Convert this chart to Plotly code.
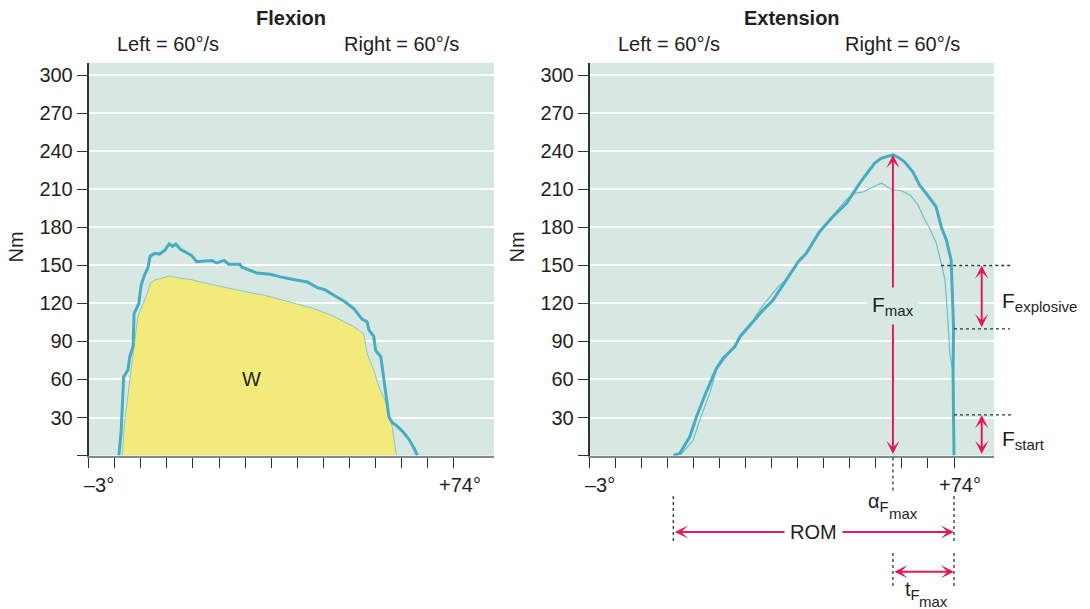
import plotly.graph_objects as go

# ---------------- data (angle in degrees, torque in Nm) ----------------
# Flexion, left leg (thin curve, work area W filled)
flex_left_deg = [4.1, 4.6, 5.7, 6.7, 7.4, 8.5, 9.5, 10.0, 11.0, 12.4, 14.1, 16.3, 18.4, 20.5,
                 23.3, 26.8, 30.4, 33.9, 37.4, 40.9, 44.5, 48.0, 50.8, 52.9, 55.0, 55.7,
                 57.1, 58.2, 59.6, 61.0, 61.9]
flex_left_nm = [0, 25.4, 59.6, 91, 109.6, 120, 129, 136, 138.5, 140, 141.7, 140, 139, 137,
                134.6, 132, 129, 126.7, 123.3, 120, 116, 111, 105.6, 101.7, 96, 80.7,
                67.5, 54.3, 42.5, 22.7, 0]

# Flexion, right leg (thick curve)
flex_right_deg = [3.4, 3.9, 4.4, 5.3, 5.7, 6.4, 6.6, 7.6, 8.1, 8.8, 9.5, 10.0, 11.0, 12.0,
                  13.1, 14.0, 14.7, 15.4, 16.3, 17.7, 18.7, 19.8, 23.0, 24.0, 25.6, 26.5,
                  28.9, 29.3, 32.5, 35.3, 37.4, 40.2, 43.1, 45.2, 46.9, 48.7, 50.8, 52.9,
                  54.7, 55.7, 56.1, 57.1, 57.5, 58.6, 58.9, 59.6, 60.3, 61.0, 62.1, 63.2,
                  64.5, 65.6, 66.3]
flex_right_nm = [0, 20, 62, 67.5, 78, 86, 112, 120, 134.6, 142.5, 148, 157.5, 159.6, 159,
                 162, 167, 165, 167, 163, 160, 158, 153, 154, 152, 154, 151,
                 151, 148.6, 144, 143, 141, 139, 137, 132.5, 130.7, 126.5, 122, 116,
                 107.5, 105.6, 99, 94.3, 83, 78, 70, 51.7, 30.6, 26, 23, 19,
                 13, 5.7, 0]

# Extension, left leg (thin curve)
ext_left_deg = [15.0, 16.5, 18.9, 20.3, 22.4, 23.8, 25.9, 27.8, 29.0, 31.0, 33.5, 36.8,
                38.7, 41.2, 43.0, 45.5, 48.3, 51.0, 52.7, 54.8, 56.9, 58.7, 60.8, 62.9,
                64.7, 66.4, 67.5, 68.9, 70.3, 71.4, 72.1, 72.8, 73.1, 73.8, 74.0]
ext_left_nm = [0, 1.5, 12, 28, 49, 67.5, 78, 86.5, 94, 103.5, 118, 133,
               139.5, 153.5, 160, 177, 189, 201, 207, 208, 212, 215, 210, 209,
               205.7, 197.8, 188.5, 179, 167.5, 149, 138.6, 101.7, 80.7, 65, 0]

# Extension, right leg (thick curve)
ext_right_deg = [14.7, 16.1, 18.2, 19.6, 21.4, 23.8, 25.2, 27.7, 28.8, 30.9, 33.7, 35.8,
                 38.6, 41.1, 42.8, 45.6, 48.4, 51.3, 54.1, 57.2, 58.6, 60.4, 61.1, 62.1,
                 63.5, 65.3, 66.7, 68.1, 70.2, 71.3, 72.4, 73.4, 73.6, 73.9, 73.8, 74.0]
ext_right_nm = [0, 1.7, 15, 30.6, 47.8, 68.8, 76.7, 86, 93.8, 103, 115, 122.8,
                138.6, 153, 159.6, 176.7, 188.5, 199, 215, 230.7, 234.6, 236.7, 237.4, 235.6,
                232, 224, 213.6, 207, 196.4, 180.6, 170, 154, 133, 101.7, 65, 0]

y_ticks = [0, 30, 60, 90, 120, 150, 180, 210, 240, 270, 300]
y_tick_labels = ["", "30", "60", "90", "120", "150", "180", "210", "240", "270", "300"]
x_ticks = [-3, 2.5, 8, 13.5, 19, 24.5, 30, 35.5, 41, 46.5, 52, 57.5, 63, 68.5, 74]
x_end_labels = ["–3°", "+74°"]

# Torque levels marked on the extension curve
f_explosive_top, f_explosive_bottom = 150, 100
f_start_level = 32

# ---------------- layout geometry ----------------
W, H = 1090, 609
X_RANGE = [-3, 82.45]
Y_RANGE = [0, 310]
DOM_X1 = [88.5 / W, 494 / W]
DOM_X2 = [589.5 / W, 994 / W]
DOM_Y = [1 - 455.5 / H, 1 - 62.8 / H]

BG = "#d7e8e2"
THICK = "#48acc1"
THIN = "#6dbdcc"
YELLOW = "#f2eb7b"
RED = "#e41a58"
TEXT = "#231f20"
FONT = "Liberation Sans, Arial, sans-serif"


def xpx(deg, dom):
    return dom[0] * W + (deg - X_RANGE[0]) / (X_RANGE[1] - X_RANGE[0]) * (dom[1] - dom[0]) * W


def ypx(val):
    return (1 - DOM_Y[1]) * H + (Y_RANGE[1] - val) / (Y_RANGE[1] - Y_RANGE[0]) * (DOM_Y[1] - DOM_Y[0]) * H


def sub(s, size):
    return "<sub><span style='font-size:%dpx'>%s</span></sub>" % (size, s)


fig = go.Figure()

# Flexion
fig.add_trace(go.Scatter(x=flex_left_deg, y=flex_left_nm, mode="lines", fill="tozeroy",
                         fillcolor=YELLOW, line=dict(color="#86c8cc", width=1),
                         xaxis="x", yaxis="y", hoverinfo="skip"))
fig.add_trace(go.Scatter(x=flex_right_deg, y=flex_right_nm, mode="lines",
                         line=dict(color=THICK, width=3), xaxis="x", yaxis="y", hoverinfo="skip"))
# Extension
fig.add_trace(go.Scatter(x=ext_left_deg, y=ext_left_nm, mode="lines",
                         line=dict(color=THIN, width=1.2), xaxis="x2", yaxis="y2", hoverinfo="skip"))
fig.add_trace(go.Scatter(x=ext_right_deg, y=ext_right_nm, mode="lines",
                         line=dict(color=THICK, width=3), xaxis="x2", yaxis="y2", hoverinfo="skip"))

xaxis_style = dict(range=X_RANGE, tickvals=x_ticks, ticktext=[""] * len(x_ticks),
                   ticks="outside", ticklen=10, tickwidth=1.2, tickcolor="#333",
                   showgrid=False, zeroline=False, showline=True, linecolor="#7f8b89",
                   linewidth=2, fixedrange=True)
yaxis_style = dict(range=Y_RANGE, domain=DOM_Y, tickvals=y_ticks, ticktext=y_tick_labels,
                   ticks="outside", ticklen=10, tickwidth=1.2, tickcolor="#333",
                   showgrid=True, gridcolor="white", gridwidth=2, zeroline=False,
                   showline=True, linecolor="#333", linewidth=1.5,
                   tickfont=dict(size=20, color=TEXT, family=FONT), fixedrange=True)

fig.update_layout(
    width=W, height=H, margin=dict(l=0, r=0, t=0, b=0),
    paper_bgcolor="white", plot_bgcolor=BG, showlegend=False,
    font=dict(family=FONT, size=20, color=TEXT),
    xaxis=dict(domain=DOM_X1, anchor="y", **xaxis_style),
    xaxis2=dict(domain=DOM_X2, anchor="y2", **xaxis_style),
    yaxis=dict(anchor="x", **yaxis_style),
    yaxis2=dict(anchor="x2", **yaxis_style),
)


def text(px, py, s, size=20, xanchor="center", yanchor="middle", **kw):
    fig.add_annotation(xref="paper", yref="paper", x=px / W, y=1 - py / H, text=s,
                       showarrow=False, xanchor=xanchor, yanchor=yanchor,
                       font=dict(size=size, color=TEXT, family=FONT), **kw)


def dotted(x0, y0, x1, y1):
    fig.add_shape(type="line", xref="paper", yref="paper",
                  x0=x0 / W, y0=1 - y0 / H, x1=x1 / W, y1=1 - y1 / H,
                  line=dict(color="#333", width=1.3, dash="dot"))


def double_arrow(x0, y0, x1, y1):
    fig.add_annotation(xref="paper", yref="paper", x=x1 / W, y=1 - y1 / H,
                       axref="pixel", ayref="pixel", ax=x0 - x1, ay=y0 - y1,
                       text="", showarrow=True, arrowside="end+start",
                       arrowhead=3, startarrowhead=3, arrowsize=1.1, startarrowsize=1.1,
                       arrowwidth=2, arrowcolor=RED, standoff=0, startstandoff=0)


def doubly_subscripted(px, py, base, mid, dx):
    # symbol with a subscript "F" that carries its own lower "max" index
    text(px, py, base + sub(mid, 15), xanchor="left")
    text(px + dx, py + 11, "max", size=15, xanchor="left")


# Titles
for dom, title in ((DOM_X1, "Flexion"), (DOM_X2, "Extension")):
    cx = (dom[0] + dom[1]) / 2 * W
    text(cx, 18, "<b>" + title + "</b>")
    text(dom[0] * W + 79, 44, "Left = 60°/s")
    text(dom[0] * W + 313, 44, "Right = 60°/s")

# Axis labels
for dom in (DOM_X1, DOM_X2):
    text(dom[0] * W - 73, 247, "Nm", textangle=-90)
    text(xpx(x_ticks[0], dom) + 10, 485, x_end_labels[0])
    text(xpx(x_ticks[-1], dom) + 6, 485, x_end_labels[1])

# Work area label
text(xpx(31.3, DOM_X1), ypx(60), "W")

# ---- extension annotations ----
i_max = ext_right_nm.index(max(ext_right_nm))
fmax_deg, fmax_val = ext_right_deg[i_max], ext_right_nm[i_max]
x_fmax = xpx(fmax_deg, DOM_X2)
x_end = xpx(ext_right_deg[-1], DOM_X2)
x_start = xpx(ext_right_deg[0], DOM_X2)
x_side = 981.7

# F_max
double_arrow(x_fmax, ypx(0), x_fmax, ypx(fmax_val))
text(x_fmax, ypx(118), "F" + sub("max", 15), size=21, bgcolor=BG, borderpad=5)

# F_explosive
x_thin_150 = xpx(71.3, DOM_X2)
dotted(x_thin_150, ypx(f_explosive_top), 1013, ypx(f_explosive_top))
dotted(x_end, ypx(f_explosive_bottom), 1010, ypx(f_explosive_bottom))
double_arrow(x_side, ypx(f_explosive_bottom), x_side, ypx(f_explosive_top))
text(1000, 302, "F" + sub("explosive", 15), size=21, xanchor="left")

# F_start
dotted(x_end, ypx(f_start_level), 1013, ypx(f_start_level))
double_arrow(x_side, ypx(0), x_side, ypx(f_start_level))
text(1000, 440, "F" + sub("start", 15), size=21, xanchor="left")

# Angle at F_max
dotted(x_fmax, ypx(0) + 2, x_fmax, 492)
doubly_subscripted(866, 502, "α", "F", 21)

# ROM
dotted(x_start, 496, x_start, 542)
dotted(x_end, 496, x_end, 542)
double_arrow(x_start, 532, x_end, 532)
text((x_start + x_end) / 2, 532, "ROM", bgcolor="white", borderpad=5)

# Time to F_max
dotted(x_fmax, 553, x_fmax, 588)
dotted(x_end, 553, x_end, 588)
double_arrow(x_fmax, 571.7, x_end, 571.7)
doubly_subscripted(903, 590, "t", "F", 14)

fig.write_html("out.html")
